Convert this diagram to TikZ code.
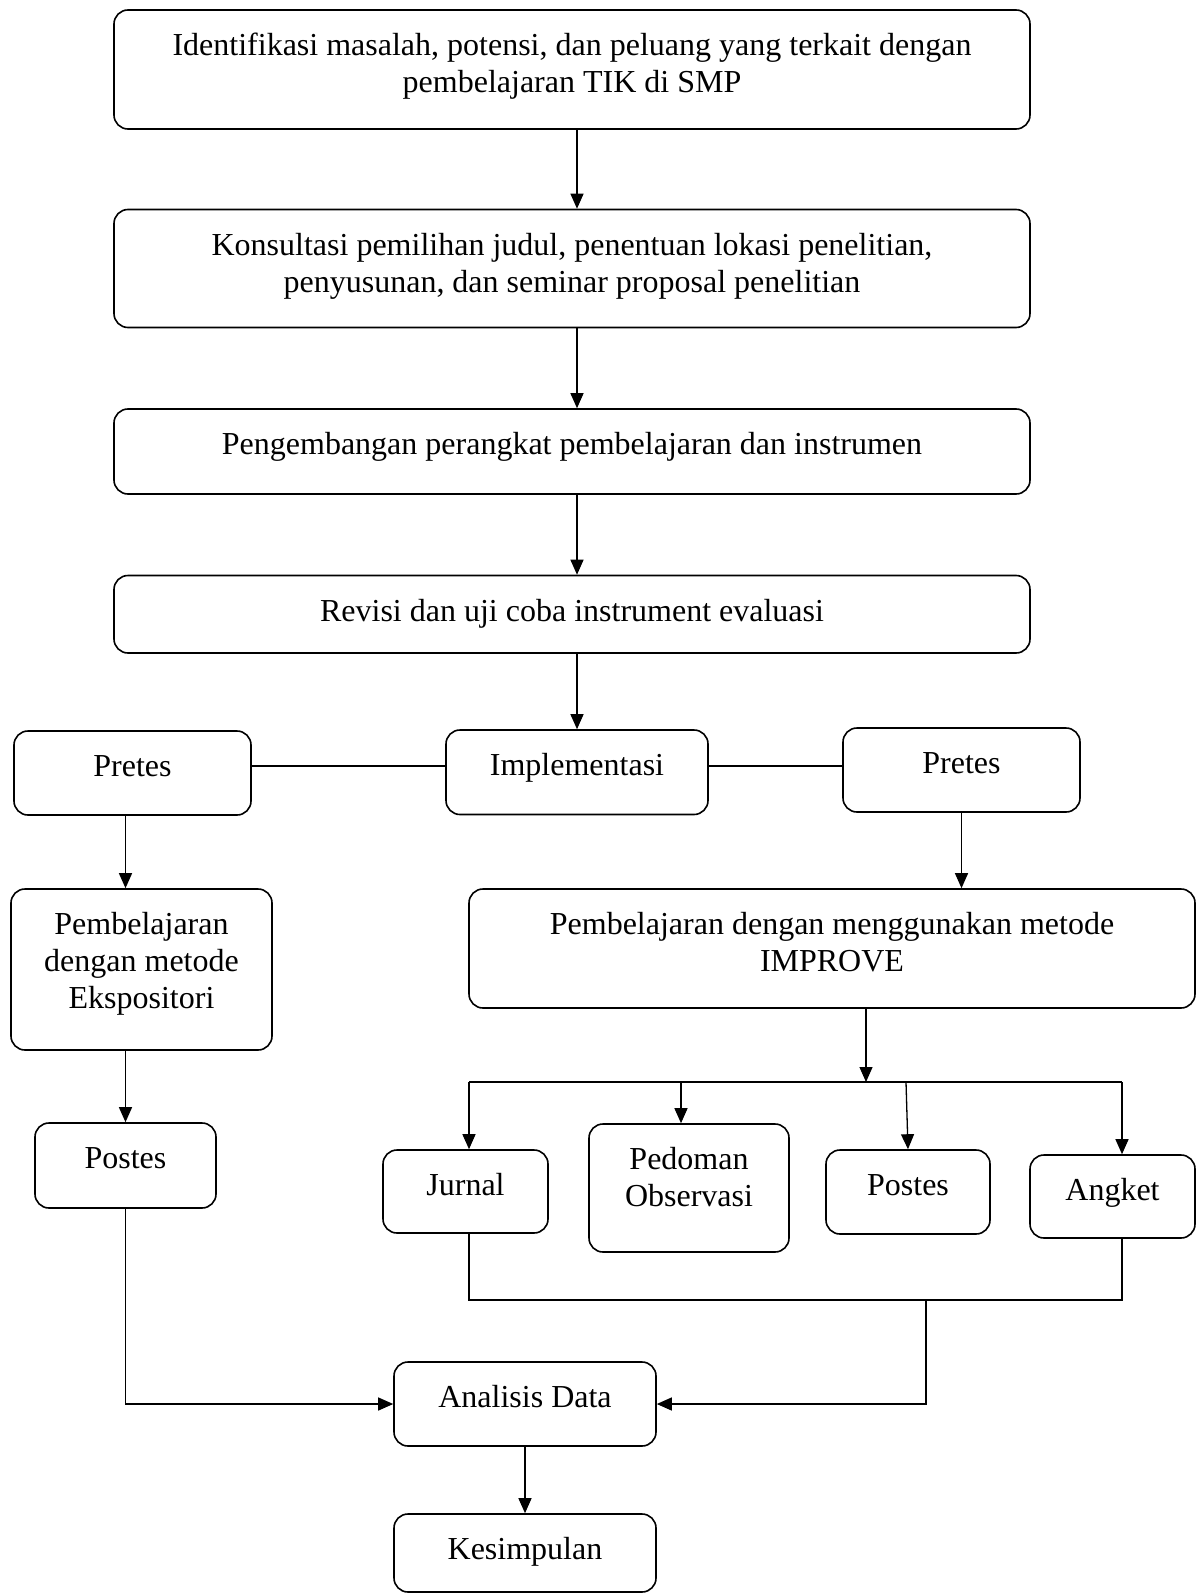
\documentclass[tikz,border=0pt]{standalone}
\usepackage{fontspec}
\setmainfont{Liberation Serif}
\usepackage{tikz}
\usetikzlibrary{fit,calc,arrows.meta}
\newcommand{\BoxFont}{\fontsize{32}{37}\selectfont}
\tikzset{
Box/.style={draw,rounded corners=14pt,line width=1.6pt,inner sep=0pt},
BoxText/.style={anchor=north,inner sep=0pt,align=center,font=\BoxFont},
Line/.style={line width=1.3pt},
Arrow/.style={Line,-{Triangle[length=15pt,width=13pt]}}
}
\newcommand{\FlowBox}[4]{%
	\node[Box,fit={(#2) (#3)}] (#1) {};%
	\node[BoxText] (#1@text) at ($(#1.north)+(0,20.5)$) {\strut#4};%
}
\begin{document}
\begin{tikzpicture}[x=1pt,y=-1pt]
	\fill[white] (0,0) rectangle (1203,1594);
	\useasboundingbox (0,0) rectangle (1203,1594);
	
	\begin{scope}% Tahap persiapan
		\FlowBox{Identifikasi}{114,10}{1030,129}{Identifikasi masalah, potensi, dan peluang yang terkait dengan\\pembelajaran TIK di SMP}
		\FlowBox{Konsultasi}{114,209.5}{1030,327.5}{Konsultasi pemilihan judul, penentuan lokasi penelitian,\\penyusunan, dan seminar proposal penelitian}
		\FlowBox{Pengembangan}{114,409}{1030,494}{Pengembangan perangkat pembelajaran dan instrumen}
		\FlowBox{Revisi}{114,575.5}{1030,653}{Revisi dan uji coba instrument evaluasi}
	\end{scope}
	
	\begin{scope}% Tahap pelaksanaan
		\FlowBox{Implementasi}{446,730}{708,814.5}{Implementasi}
		\FlowBox{PretesA}{14,731}{251,815}{Pretes}
		\FlowBox{PretesB}{843,728}{1080,812}{Pretes}
		\FlowBox{Ekspositori}{11,889}{272,1050}{Pembelajaran\\dengan metode\\Ekspositori}
		\FlowBox{Improve}{469,889}{1195,1008}{Pembelajaran dengan menggunakan metode\\IMPROVE}
		\FlowBox{PostesA}{35,1123}{216,1208}{Postes}
		\FlowBox{Jurnal}{383,1150}{548,1233}{Jurnal}
		\FlowBox{Pedoman}{589,1124}{789,1252}{Pedoman\\Observasi}
		\FlowBox{PostesB}{826,1150}{990,1234}{Postes}
		\FlowBox{Angket}{1030,1155}{1195,1238}{Angket}
	\end{scope}
	
	\begin{scope}% Tahap akhir
		\FlowBox{Analisis}{394,1362}{656,1446}{Analisis Data}
		\FlowBox{Kesimpulan}{394,1514}{656,1592}{Kesimpulan}
	\end{scope}
	
	% alur utama
	\draw[Arrow] (Identifikasi.south -| Implementasi) -- (Konsultasi.north -| Implementasi);
	\draw[Arrow] (Konsultasi.south -| Implementasi) -- (Pengembangan.north -| Implementasi);
	\draw[Arrow] (Pengembangan.south -| Implementasi) -- (Revisi.north -| Implementasi);
	\draw[Arrow] (Revisi.south -| Implementasi) -- (Implementasi.north);
	
	\coordinate (Row) at (0,766);
	\draw[Line] (PretesA.east |- Row) -- (Implementasi.west |- Row);
	\draw[Line] (Implementasi.east |- Row) -- (PretesB.west |- Row);
	
	% kelas kontrol
	\draw[Arrow] (PretesA.south -| PostesA) -- (Ekspositori.north -| PostesA);
	\draw[Arrow] (Ekspositori.south -| PostesA) -- (PostesA.north);
	\draw[Arrow] (PostesA.south) |- (Analisis.west);
	
	% kelas eksperimen
	\draw[Arrow] (PretesB.south) -- (PretesB.south |- Improve.north);
	\coordinate (SplitTop) at (866,1082);
	\coordinate (BusL) at (469,1082);
	\coordinate (BusR) at (1122,1082);
	\coordinate (TapPedoman) at (681,1082);
	\coordinate (TapPostes) at (906,1082);
	\draw[Arrow] (Improve.south -| SplitTop) -- (SplitTop);
	\draw[Line] (BusL) -- (BusR);
	\draw[Arrow] (BusL) -- (BusL |- Jurnal.north);
	\draw[Arrow] (TapPedoman) -- (TapPedoman |- Pedoman.north);
	\draw[Arrow] (TapPostes) -- (PostesB.north);
	\draw[Arrow] (BusR) -- (BusR |- Angket.north);
	
	\coordinate (JoinL) at (469,1300);
	\coordinate (JoinR) at (1122,1300);
	\coordinate (Drop) at (926,1300);
	\draw[Line] (JoinL |- Jurnal.south) -- (JoinL) -- (JoinR) -- (JoinR |- Angket.south);
	\draw[Arrow] (Drop) |- (Analisis.east);
	
	\draw[Arrow] (Analisis) -- (Kesimpulan);
\end{tikzpicture}
\end{document}
